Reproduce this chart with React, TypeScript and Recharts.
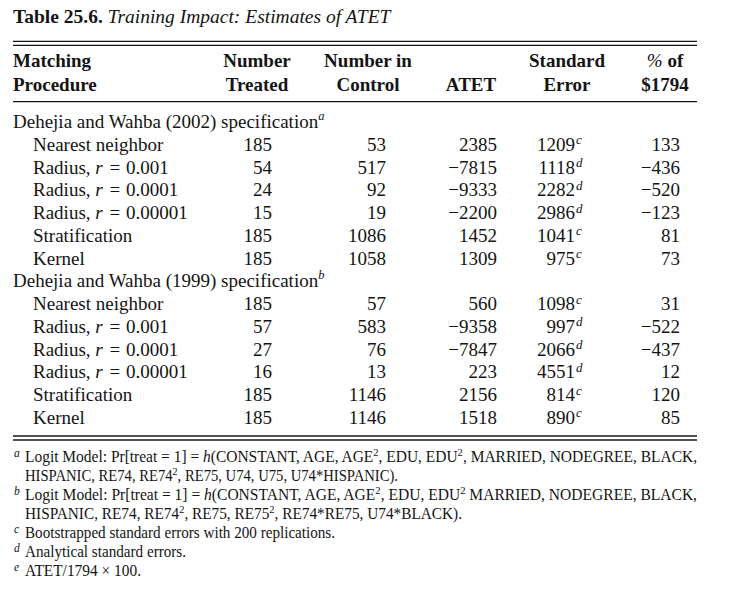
import React from 'react'
import { Surface, Layer } from 'recharts'

// table values
const sectionLabels = ['Dehejia and Wahba (2002) specification', 'Dehejia and Wahba (1999) specification']
const sectionNotes = ['a', 'b']
const procedures = ['Nearest neighbor', 'Radius', 'Radius', 'Radius', 'Stratification', 'Kernel']
const radii = ['', '0.001', '0.0001', '0.00001', '', '']

const treated2002 = [185, 54, 24, 15, 185, 185]
const control2002 = [53, 517, 92, 19, 1086, 1058]
const atet2002 = [2385, -7815, -9333, -2200, 1452, 1309]
const se2002 = [1209, 1118, 2282, 2986, 1041, 975]
const seNotes2002 = ['c', 'd', 'd', 'd', 'c', 'c']
const pct2002 = [133, -436, -520, -123, 81, 73]

const treated1999 = [185, 57, 27, 16, 185, 185]
const control1999 = [57, 583, 76, 13, 1146, 1146]
const atet1999 = [560, -9358, -7847, 223, 2156, 1518]
const se1999 = [1098, 997, 2066, 4551, 814, 890]
const seNotes1999 = ['c', 'd', 'd', 'd', 'c', 'c']
const pct1999 = [31, -522, -437, 12, 120, 85]

const headerTop = ['Matching', 'Number', 'Number in', '', 'Standard', '% of']
const headerBottom = ['Procedure', 'Treated', 'Control', 'ATET', 'Error', '$1794']

const W = 729
const H = 592
const LEFT = 13
const RIGHT = 697
const FONT = '"Liberation Serif", "Times New Roman", serif'
const INK = '#141414'

const colRight = [0, 272, 386, 497, 575, 680]
const colCenter = [0, 257, 368, 471, 567, 665]
const rowBase = 128
const rowStep = 22.75

const fmt = (v: number) => (v < 0 ? '\u2212' + Math.abs(v) : String(v))

interface Section {
  treated: number[]
  control: number[]
  atet: number[]
  se: number[]
  seNotes: string[]
  pct: number[]
}

const sections: Section[] = [
  { treated: treated2002, control: control2002, atet: atet2002, se: se2002, seNotes: seNotes2002, pct: pct2002 },
  { treated: treated1999, control: control1999, atet: atet1999, se: se1999, seNotes: seNotes1999, pct: pct1999 },
]

function Rule({ y }: { y: number }) {
  return <line x1={LEFT} x2={RIGHT} y1={y} y2={y} stroke={INK} strokeWidth={1.3} />
}

function Footnote({ y, mark, width, children }: { y: number; mark: string; width: number; children: React.ReactNode }) {
  return (
    <g>
      {mark && (
        <text x={14} y={y - 5} fontSize={11.5} fontStyle="italic">
          {mark}
        </text>
      )}
      <text x={25} y={y} fontSize={16} textLength={width} lengthAdjust="spacingAndGlyphs">
        {children}
      </text>
    </g>
  )
}

// superscript followed by text back on the baseline
const sup = (s: string, after: string) => (
  <>
    <tspan dy={-6} fontSize={11}>{s}</tspan>
    <tspan dy={6}>{after}</tspan>
  </>
)

export default function App() {
  return (
    <div style={{ width: W, height: H, background: '#fff' }}>
      <style>{`body{margin:0;background:#fff}`}</style>
      <Surface width={W} height={H}>
        <Layer fontFamily={FONT} fill={INK}>
          {/* title */}
          <text x={LEFT} y={23} fontSize={19.5}>
            <tspan fontWeight="bold">Table 25.6.</tspan>
            <tspan fontStyle="italic">{' Training Impact: Estimates of ATET'}</tspan>
          </text>

          <Rule y={41.3} />
          <Rule y={45.3} />

          {/* header */}
          {headerTop.map((h, i) =>
            h ? (
              <text
                key={'ht' + i}
                x={i === 0 ? LEFT : colCenter[i]}
                y={67}
                fontSize={19}
                fontWeight="bold"
                textAnchor={i === 0 ? 'start' : 'middle'}
              >
                {h.startsWith('%') ? (
                  <>
                    <tspan fontWeight="normal" fontStyle="italic">%</tspan>
                    {h.slice(1)}
                  </>
                ) : (
                  h
                )}
              </text>
            ) : null
          )}
          {headerBottom.map((h, i) => (
            <text
              key={'hb' + i}
              x={i === 0 ? LEFT : colCenter[i]}
              y={91}
              fontSize={19}
              fontWeight="bold"
              textAnchor={i === 0 ? 'start' : 'middle'}
            >
              {h}
            </text>
          ))}

          <Rule y={101.7} />

          {/* body */}
          {sections.map((s, si) => {
            const k0 = si * 7
            return (
              <g key={'s' + si} fontSize={19}>
                <text x={LEFT} y={rowBase + k0 * rowStep}>
                  {sectionLabels[si]}
                  <tspan dy={-8} fontSize={12.5} fontStyle="italic">
                    {sectionNotes[si]}
                  </tspan>
                </text>
                {procedures.map((p, ri) => {
                  const y = rowBase + (k0 + ri + 1) * rowStep
                  return (
                    <g key={'r' + ri}>
                      <text x={33} y={y}>
                        {radii[ri] ? (
                          <>
                            {p + ', '}
                            <tspan fontStyle="italic">r</tspan>
                            <tspan dx={2}>{'\u00a0=\u00a0'}</tspan>
                            <tspan dx={1}>{radii[ri]}</tspan>
                          </>
                        ) : (
                          p
                        )}
                      </text>
                      <text x={colRight[1]} y={y} textAnchor="end">{fmt(s.treated[ri])}</text>
                      <text x={colRight[2]} y={y} textAnchor="end">{fmt(s.control[ri])}</text>
                      <text x={colRight[3]} y={y} textAnchor="end">{fmt(s.atet[ri])}</text>
                      <text x={colRight[4]} y={y} textAnchor="end">{fmt(s.se[ri])}</text>
                      <text x={colRight[4] + 1} y={y - 6.5} fontSize={13} fontStyle="italic">
                        {s.seNotes[ri]}
                      </text>
                      <text x={colRight[5]} y={y} textAnchor="end">{fmt(s.pct[ri])}</text>
                    </g>
                  )
                })}
              </g>
            )
          })}

          <Rule y={436} />
          <Rule y={440} />

          {/* footnotes */}
          <Footnote y={462} mark="a" width={672}>
            {'Logit Model: Pr[treat = 1] = '}
            <tspan fontStyle="italic">h</tspan>
            {'(CONSTANT, AGE, AGE'}
            {sup('2', ', EDU, EDU')}
            {sup('2', ', MARRIED, NODEGREE, BLACK,')}
          </Footnote>
          <Footnote y={481} mark="" width={373}>
            {'HISPANIC, RE74, RE74'}
            {sup('2', ', RE75, U74, U75, U74*HISPANIC).')}
          </Footnote>
          <Footnote y={500} mark="b" width={672}>
            {'Logit Model: Pr[treat = 1] = '}
            <tspan fontStyle="italic">h</tspan>
            {'(CONSTANT, AGE, AGE'}
            {sup('2', ', EDU, EDU')}
            {sup('2', ' MARRIED, NODEGREE, BLACK,')}
          </Footnote>
          <Footnote y={519} mark="" width={437}>
            {'HISPANIC, RE74, RE74'}
            {sup('2', ', RE75, RE75')}
            {sup('2', ', RE74*RE75, U74*BLACK).')}
          </Footnote>
          <Footnote y={538} mark="c" width={310}>
            Bootstrapped standard errors with 200 replications.
          </Footnote>
          <Footnote y={557} mark="d" width={161}>
            Analytical standard errors.
          </Footnote>
          <Footnote y={576} mark="e" width={116}>
            {'ATET/1794 \u00d7 100.'}
          </Footnote>
        </Layer>
      </Surface>
    </div>
  )
}
